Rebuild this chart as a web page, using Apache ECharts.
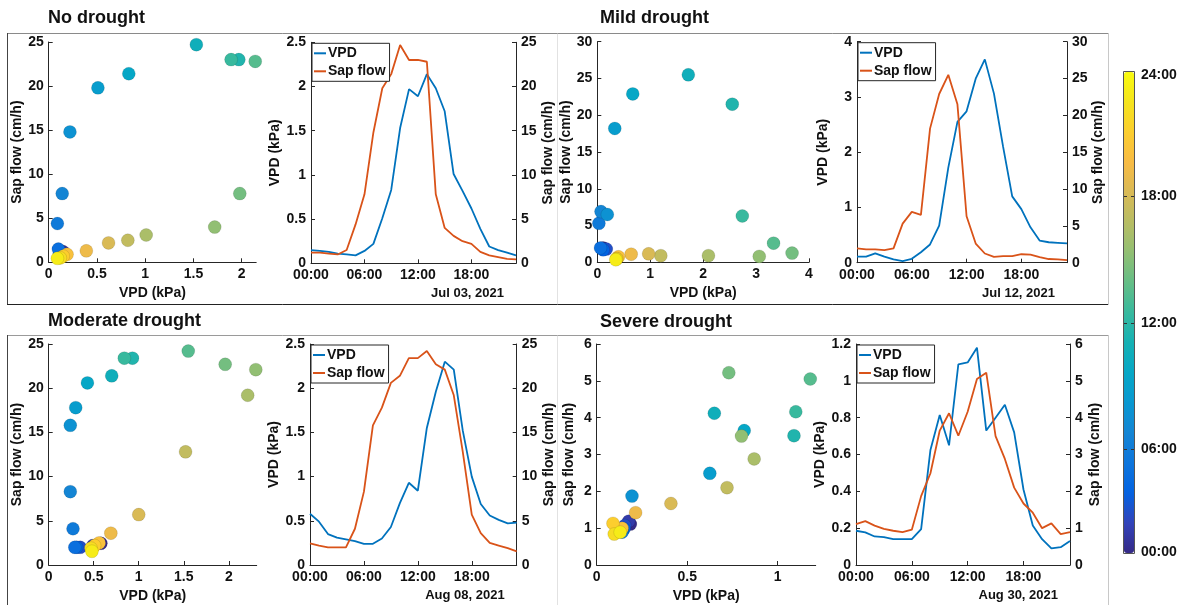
<!DOCTYPE html>
<html><head><meta charset="utf-8">
<script src="https://cdn.jsdelivr.net/npm/echarts@6/dist/echarts.min.js"></script>
<style>html,body{margin:0;padding:0;background:#fff}#c{width:1184px;height:605px}</style>
</head><body><div id="c"></div>
<script>
// ---------------- DATA ----------------
const hours = [0,1,2,3,4,5,6,7,8,9,10,11,12,13,14,15,16,17,18,19,20,21,22,23];
const panelTitles = ['No drought','Mild drought','Moderate drought','Severe drought'];
const dateLabels = ['Jul 03, 2021','Jul 12, 2021','Aug 08, 2021','Aug 30, 2021'];
const timeTicks = [0,6,12,18];
const colorbarTicks = ['24:00','18:00','12:00','06:00','00:00'];
const scatterXTicks = [[0,0.5,1,1.5,2],[0,1,2,3,4],[0,0.5,1,1.5,2],[0,0.5,1]];

// No drought (Jul 03, 2021)
const noVPD = [0.15,0.14,0.13,0.11,0.10,0.09,0.14,0.22,0.51,0.83,1.53,1.97,1.89,2.14,1.98,1.72,1.01,0.82,0.62,0.39,0.19,0.15,0.12,0.09];
const noSap = [1.2,1.2,1.1,1.0,1.5,4.4,7.8,14.8,19.8,21.4,24.7,23.0,23.0,22.8,7.8,4.0,3.1,2.5,2.2,1.3,0.9,0.7,0.5,0.45];
// Mild drought (Jul 12, 2021)
const mildVPD = [0.11,0.11,0.17,0.11,0.06,0.03,0.07,0.19,0.33,0.67,1.72,2.55,2.74,3.33,3.68,3.06,2.10,1.20,0.97,0.64,0.40,0.37,0.36,0.35];
const mildSap = [1.95,1.8,1.8,1.7,1.95,5.3,6.9,6.5,18.2,22.9,25.5,21.5,6.3,2.6,1.25,0.8,0.9,0.9,1.15,1.1,0.75,0.5,0.45,0.35];
// Moderate drought (Aug 08, 2021)
const modVPD = [0.58,0.49,0.35,0.31,0.29,0.27,0.24,0.24,0.30,0.43,0.70,0.93,0.84,1.55,1.96,2.30,2.21,1.52,1.00,0.69,0.56,0.51,0.47,0.48];
const modSap = [2.45,2.2,2.0,2.0,2.0,4.1,8.3,15.8,17.8,20.6,21.4,23.4,23.4,24.2,22.7,22.1,19.2,12.8,5.7,3.6,2.5,2.2,1.9,1.55];
// Severe drought (Aug 30, 2021)
const sevVPD = [0.186,0.177,0.155,0.151,0.14,0.14,0.14,0.195,0.625,0.815,0.65,1.09,1.10,1.18,0.73,0.80,0.87,0.72,0.41,0.215,0.14,0.09,0.097,0.13];
const sevSap = [1.11,1.19,1.07,0.98,0.93,0.89,0.96,1.87,2.49,3.65,4.12,3.51,4.16,5.05,5.22,3.5,2.88,2.1,1.67,1.42,1.0,1.13,0.84,0.89];

const vpdSets = [noVPD, mildVPD, modVPD, sevVPD];
const sapSets = [noSap, mildSap, modSap, sevSap];

// ---------------- LAYOUT / STYLE ----------------
const parula = ['#352A87','#3243BA','#0363E1','#0D75DC','#1485D4','#0998D1','#06A7C6','#15B1B4','#38B99E',
                '#65BE86','#92BF73','#B7BD64','#D9BA56','#F8BB44','#FCCE2E','#F5E41D','#F9FB0E'];
const cVPD = '#0072BD', cSap = '#D95319';
const FF = '"Liberation Sans", Arial, sans-serif';
const layout = [
  {sc:{l:48.7,t:42,w:207.5,h:220.3}, ts:{l:311,t:42.3,w:205,h:221}, xMax:2.15, sapMax:25, sapInt:5, vpdMax:2.5, vpdInt:0.5,
   g:{scY:19, tsL:27, tsR:25}, titleX:48, titleY:19, nameY:287},
  {sc:{l:597.3,t:41.7,w:211.7,h:220.6}, ts:{l:857,t:41.7,w:210,h:221}, xMax:4, sapMax:30, sapInt:5, vpdMax:4, vpdInt:1,
   g:{scY:19, tsL:27, tsR:24}, titleX:600, titleY:19, nameY:287},
  {sc:{l:48.7,t:344,w:208,h:221}, ts:{l:310,t:344,w:206.7,h:221}, xMax:2.31, sapMax:25, sapInt:5, vpdMax:2.5, vpdInt:0.5,
   g:{scY:19, tsL:26, tsR:25}, titleX:48, titleY:322, nameY:589},
  {sc:{l:596.7,t:344,w:219,h:221}, ts:{l:856,t:344,w:214,h:221}, xMax:1.21, sapMax:6, sapInt:1, vpdMax:1.2, vpdInt:0.2,
   g:{scY:21, tsL:24, tsR:18}, titleX:600, titleY:323, nameY:589}
];

function axisBase(){
  return {
    axisLine:{show:true,onZero:false,lineStyle:{color:'#262626',width:1}},
    axisTick:{show:true,inside:true,length:4,lineStyle:{color:'#262626'}},
    axisLabel:{color:'#111',fontFamily:FF,fontWeight:'bold',fontSize:14,margin:5},
    splitLine:{show:false},
    nameTextStyle:{color:'#111',fontFamily:FF,fontWeight:'bold',fontSize:14}
  };
}
const hh = v => (v<10?'0':'')+v+':00';

const grids=[], xAxes=[], yAxes=[], series=[], legends=[], graphics=[], scatterIdx=[];

layout.forEach((L,i)=>{
  const gs = grids.length;
  grids.push({left:L.sc.l, top:L.sc.t, width:L.sc.w, height:L.sc.h, containLabel:false});
  const xs = Object.assign(axisBase(), {type:'value', gridIndex:gs, min:0, max:L.xMax,
    name:'VPD (kPa)', nameLocation:'middle', nameGap:24});
  xs.axisLabel.customValues = scatterXTicks[i];
  xs.axisTick.customValues = scatterXTicks[i];
  xAxes.push(xs);
  const ys = Object.assign(axisBase(), {type:'value', gridIndex:gs, min:0, max:L.sapMax, interval:L.sapInt,
    name:'Sap flow (cm/h)', nameLocation:'middle', nameGap:L.g.scY});
  yAxes.push(ys);
  scatterIdx.push(series.length);
  series.push({type:'scatter', xAxisIndex:xAxes.length-1, yAxisIndex:yAxes.length-1,
    symbolSize:13, itemStyle:{opacity:1, borderColor:'rgba(0,0,0,0.18)', borderWidth:0.6},
    data: hours.map(h=>[vpdSets[i][h], sapSets[i][h], h]), silent:true});

  const gt = grids.length;
  grids.push({left:L.ts.l, top:L.ts.t, width:L.ts.w, height:L.ts.h, containLabel:false});
  const xt = Object.assign(axisBase(), {type:'value', gridIndex:gt, min:0, max:23});
  xt.axisLabel.customValues = timeTicks; xt.axisTick.customValues = timeTicks;
  xt.axisLabel.formatter = hh;
  xAxes.push(xt);
  const xtIdx = xAxes.length-1;
  const yl = Object.assign(axisBase(), {type:'value', gridIndex:gt, position:'left', min:0, max:L.vpdMax, interval:L.vpdInt,
    name:'VPD (kPa)', nameLocation:'middle', nameGap:L.g.tsL});
  yAxes.push(yl); const ylIdx = yAxes.length-1;
  const yr = Object.assign(axisBase(), {type:'value', gridIndex:gt, position:'right', min:0, max:L.sapMax, interval:L.sapInt,
    name:'Sap flow (cm/h)', nameLocation:'middle', nameGap:L.g.tsR});
  yAxes.push(yr); const yrIdx = yAxes.length-1;
  series.push({type:'line', name:'VPD', xAxisIndex:xtIdx, yAxisIndex:ylIdx, symbol:'none', silent:true,
    lineStyle:{color:cVPD,width:1.8}, itemStyle:{color:cVPD}, data: hours.map(h=>[h, vpdSets[i][h]])});
  series.push({type:'line', name:'Sap flow', xAxisIndex:xtIdx, yAxisIndex:yrIdx, symbol:'none', silent:true,
    lineStyle:{color:cSap,width:1.8}, itemStyle:{color:cSap}, data: hours.map(h=>[h, sapSets[i][h]])});

  legends.push({data:[{name:'VPD',icon:'rect'},{name:'Sap flow',icon:'rect'}], orient:'vertical', left:L.ts.l+1, top:L.ts.t+1,
    itemWidth:12, itemHeight:2, itemGap:4, padding:[3,4,3,2], borderColor:'#262626', borderWidth:1,
    backgroundColor:'#fff', selectedMode:false,
    textStyle:{color:'#111',fontFamily:FF,fontWeight:'bold',fontSize:14, padding:[0,0,0,-3]}});

  graphics.push({type:'text', left:L.titleX, top:L.titleY-10, z:100,
    style:{text:panelTitles[i], fill:'#111', font:'bold 18px "Liberation Sans", Arial, sans-serif'}});
  graphics.push({type:'text', z:100, x:L.ts.l+L.ts.w-12, y:L.nameY,
    style:{text:dateLabels[i], fill:'#111', align:'right', verticalAlign:'top', font:'bold 13px "Liberation Sans", Arial, sans-serif'}});
});

// colorbar (labels placed as in the reference figure)
const cbL=1124, cbT=72, cbW=10, cbH=481;
const cbLabelY = [75,196,323,449,552];
colorbarTicks.forEach((t,k)=>{
  graphics.push({type:'text', z:100, x:cbL+cbW+7, y:cbLabelY[k],
    style:{text:t, fill:'#111', align:'left', verticalAlign:'middle', font:'bold 14px "Liberation Sans", Arial, sans-serif'}});
  if (k>0 && k<colorbarTicks.length-1) {
    graphics.push({type:'line', z:101, shape:{x1:cbL+cbW, y1:cbLabelY[k]+0.5, x2:cbL+cbW-3, y2:cbLabelY[k]+0.5}, style:{stroke:'#333',lineWidth:1}});
    graphics.push({type:'line', z:101, shape:{x1:cbL, y1:cbLabelY[k]+0.5, x2:cbL+3, y2:cbLabelY[k]+0.5}, style:{stroke:'#333',lineWidth:1}});
  }
});

// frames
const line = (x1,y1,x2,y2,c)=>({type:'line', z:1, shape:{x1,y1,x2,y2}, style:{stroke:c, lineWidth:1}});
graphics.push(line(7,33.5,1108,33.5,'#8a8a8a'));
graphics.push(line(7.5,33,7.5,305,'#444'));
graphics.push(line(7,304.5,1108,304.5,'#222'));
graphics.push(line(1108.5,33,1108.5,305,'#c8c8c8'));
graphics.push(line(557.5,34,557.5,304,'#e2e2e2'));
graphics.push(line(7,335.5,1108,335.5,'#9a9a9a'));
graphics.push(line(7.5,335,7.5,605,'#444'));
graphics.push(line(1108.5,335,1108.5,605,'#c8c8c8'));
graphics.push(line(557.5,336,557.5,605,'#e2e2e2'));
graphics.push({type:'rect', z:100, shape:{x:cbL-0.5,y:cbT-0.5,width:cbW+1,height:cbH+1}, style:{fill:'none',stroke:'#555',lineWidth:1}});

const chart = echarts.init(document.getElementById('c'), null, {renderer:'canvas'});
chart.setOption({
  animation:false,
  backgroundColor:'#fff',
  grid:grids, xAxis:xAxes, yAxis:yAxes, series:series, legend:legends,
  visualMap:{type:'continuous', min:0, max:24, dimension:2, seriesIndex:scatterIdx,
    inRange:{color:parula}, left:cbL, top:cbT, itemWidth:cbW, itemHeight:cbH, padding:0,
    calculable:false, realtime:false, hoverLink:false, text:null, showLabel:false, show:true},
  graphic:graphics
});
</script></body></html>
